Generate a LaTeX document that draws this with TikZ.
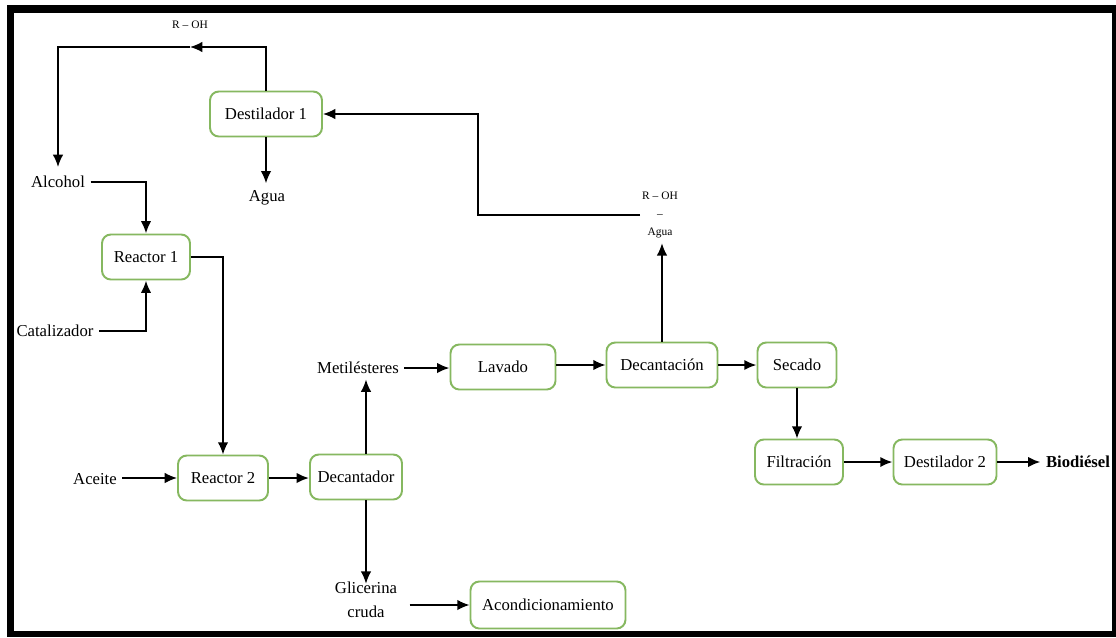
\documentclass[tikz,border=0pt]{standalone}
\usepackage{fontspec}
\setmainfont{Liberation Serif}
\usepackage{tikz}
\usetikzlibrary{arrows.meta,positioning}
\definecolor{boxgreen}{RGB}{134,184,96}
\tikzset{font=\fontsize{9.5}{11}\selectfont}
\tikzset{proc/.style={draw=boxgreen, line width=1.1pt, rounded corners=5pt, fill=white,
    minimum height=0.9cm, inner sep=2pt}}
\tikzset{lbl/.style={inner sep=3pt}}
\tikzset{small/.style={font=\fontsize{6.5}{10}\selectfont, inner sep=1pt}}
\tikzset{flow/.style={line width=0.9pt, -{Latex[length=7pt,width=6pt]}}}
\tikzset{bflow/.style={line width=1.3pt, -{Latex[length=7pt,width=6pt]}}}

\begin{document}
\begin{tikzpicture}[x=0.02cm, y=-0.02cm]
  \useasboundingbox (0,0) rectangle (1116,637);
  % frame
  \fill[black] (7,5) rectangle (1116,637);
  \fill[white] (14,13) rectangle (1112,631);

  % process boxes
  \node[proc, minimum width=2.24cm] (dest1) at (266,114) {Destilador 1};
  \node[proc, minimum width=1.76cm] (reac1) at (146,257) {Reactor 1};
  \node[proc, minimum width=1.80cm] (reac2) at (223,478) {Reactor 2};
  \node[proc, minimum width=1.84cm] (decant) at (356,477) {Decantador};
  \node[proc, minimum width=2.10cm] (lavado) at (503,367) {Lavado};
  \node[proc, minimum width=2.22cm] (decantn) at (662,365) {Decantación};
  \node[proc, minimum width=1.58cm] (secado) at (797,365) {Secado};
  \node[proc, minimum width=1.76cm] (filtr) at (799,462) {Filtración};
  \node[proc, minimum width=2.06cm] (dest2) at (945,462) {Destilador 2};
  \node[proc, minimum width=3.10cm, minimum height=0.94cm] (acond) at (548,605) {Acondicionamiento};

  % streams
  \node[lbl] (alcohol) at (58,182) {Alcohol};
  \node[lbl] (agua) at (267,198) {Agua};
  \node[lbl] (catal) at (55,331) {Catalizador};
  \node[lbl] (aceite) at (95,479) {Aceite};
  \node[lbl] (metil) at (358,368) {Metilésteres};
  \node[lbl, align=center, font=\fontsize{9.5}{13.5}\selectfont] (glic) at (366,600) {Glicerina\\cruda};
  \node[lbl, font=\bfseries\fontsize{9.5}{11}\selectfont] (biod) at (1078,462) {Biodiésel};
  \node[small] (roh) at (190,25) {R -- OH};
  \node[small, align=center] (rohagua) at (660,215) {R -- OH\\--\\Agua};

  \coordinate (top) at (190,47);
  \coordinate (ret) at (478,114);

  % connectors
  \draw[flow] (dest1.north) |- (top);
  \draw[flow, shorten >=2pt] (top) -| (alcohol.north);
  \draw[flow, shorten >=1pt] (dest1.south) -- (dest1.south |- agua.north);
  \draw[bflow] (alcohol.east) -| (reac1.north);
  \draw[bflow] (catal.east) -| (reac1.south);
  \draw[flow] (reac1.east) -| (reac2.north);
  \draw[flow] (aceite.east |- reac2.west) -- (reac2.west);
  \draw[bflow] (reac2.east) -- (reac2.east -| decant.west);
  \draw[flow] (decant.north -| glic) -- (metil.south -| glic);
  \draw[flow] (decant.south -| glic) -- ([yshift=-4pt]glic.north);
  \draw[flow] ([xshift=4pt]glic.east |- acond.west) -- (acond.west);
  \draw[bflow] (metil.east) -- (metil.east -| lavado.west);
  \draw[flow] (lavado.east |- decantn.west) -- (decantn.west);
  \draw[flow] (decantn.north) -- ([yshift=-2pt]decantn.north |- rohagua.south);
  \draw[flow] (rohagua.west) -| (ret) -- (dest1.east);
  \draw[bflow] (decantn.east) -- (decantn.east -| secado.west);
  \draw[flow] (secado.south) -- (secado.south |- filtr.north);
  \draw[bflow] (filtr.east) -- (filtr.east -| dest2.west);
  \draw[bflow] (dest2.east) -- (dest2.east -| biod.west);
\end{tikzpicture}
\end{document}
